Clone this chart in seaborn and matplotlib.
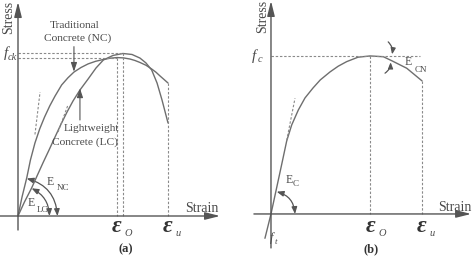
import numpy as np
import pandas as pd
import matplotlib
matplotlib.use("Agg")
import matplotlib.pyplot as plt
import seaborn as sns
from matplotlib.patches import FancyArrowPatch

sns.set_theme(style="white")
plt.rcParams['font.family'] = ['Liberation Serif', 'DejaVu Serif']

# ---------------- data (normalised strain / stress) ----------------
# panel (a): traditional concrete (NC) and lightweight concrete (LC)
nc_strain = [0, 0.027, 0.058, 0.083, 0.113, 0.145, 0.177, 0.212, 0.247, 0.291,
             0.333, 0.373, 0.42, 0.467, 0.517, 0.567, 0.613, 0.66, 0.703, 0.747,
             0.78, 0.813, 0.853, 0.891, 0.92, 0.947, 0.973, 1.0]
nc_stress = [0, 0.117, 0.233, 0.344, 0.448, 0.535, 0.607, 0.676, 0.736, 0.804,
             0.848, 0.883, 0.911, 0.933, 0.949, 0.960, 0.968, 0.972, 0.970, 0.963,
             0.954, 0.942, 0.925, 0.902, 0.882, 0.859, 0.838, 0.816]
lc_strain = [0, 0.043, 0.091, 0.13, 0.169, 0.207, 0.247, 0.287, 0.327, 0.367,
             0.413, 0.467, 0.52, 0.569, 0.633, 0.70, 0.76, 0.813, 0.853, 0.891,
             0.927, 0.96, 1.0]
lc_stress = [0, 0.086, 0.172, 0.252, 0.331, 0.405, 0.485, 0.564, 0.638, 0.706,
             0.773, 0.840, 0.908, 0.957, 0.985, 0.997, 0.991, 0.969, 0.939, 0.896,
             0.816, 0.712, 0.571]
nc_tan_strain = [0.113, 0.147]
nc_tan_stress = [0.50, 0.76]
lc_tan_strain = [0.267, 0.333]
lc_tan_stress = [0.515, 0.681]
a_peak_strain = [0.66, 0.70]      # NC, LC
a_peak_stress = [0.972, 0.997]
a_ult_strain = 1.0
a_ult_stress = 0.816

# panel (b): generic concrete curve
b_strain = [-0.04, 0, 0.04, 0.073, 0.104, 0.137, 0.181, 0.225, 0.278, 0.326,
            0.391, 0.445, 0.501, 0.576, 0.656, 0.744, 0.799, 0.899, 1.0]
b_stress = [-0.154, 0, 0.177, 0.323, 0.462, 0.563, 0.658, 0.734, 0.797, 0.848,
            0.899, 0.935, 0.964, 0.992, 1.0, 0.995, 0.970, 0.922, 0.842]
b_tan_strain = [0.104, 0.159]
b_tan_stress = [0.466, 0.732]
b_peak_strain = 0.656
b_peak_stress = 1.0
b_ult_strain = 1.0
b_ult_stress = 0.842

LINE = '#6e6e6e'
DASH = '#8a8a8a'
TXT = '#4a4a4a'

fig = plt.figure(figsize=(4.74, 2.59), dpi=100)
fig.patch.set_facecolor('white')
ax_a = fig.add_axes([0, 0, 0.5, 1])
ax_b = fig.add_axes([0.5, 0, 0.5, 1])
ax_a.set_xlim(-0.12, 1.46); ax_a.set_ylim(-0.2638, 1.3252)
ax_b.set_xlim(-0.225, 1.344); ax_b.set_ylim(-0.285, 1.354)
for ax in (ax_a, ax_b):
    ax.axis('off')

def axis_arrow(ax, p0, p1):
    ax.annotate('', xy=p1, xytext=p0,
                arrowprops=dict(arrowstyle='-|>,head_length=1.0,head_width=0.25',
                                color='#555555', lw=1.0, shrinkA=0, shrinkB=0,
                                mutation_scale=9))

def arc(ax, p0, p1, rad, style='<|-|>,head_length=0.45,head_width=0.18'):
    ax.add_patch(FancyArrowPatch(p0, p1, arrowstyle=style,
                                 connectionstyle=f'arc3,rad={rad}',
                                 color='#555555', lw=0.9, mutation_scale=9,
                                 shrinkA=0, shrinkB=0))

def dashed(ax, xs, ys):
    ax.plot(xs, ys, color=DASH, lw=0.8, dashes=(2.2, 1.6))

def eps(ax, x, y, sub):
    ax.text(x, y, 'ε', fontsize=17, fontweight='bold', style='italic',
            color='#333333', ha='center', va='center')
    ax.annotate(sub, xy=(x, y), xytext=(5.5, -5), textcoords='offset points',
                fontsize=7.5, style='italic', color=TXT, ha='left', va='center')

# ---------------- panel (a) ----------------
axis_arrow(ax_a, (-0.12, 0), (1.347, 0))
axis_arrow(ax_a, (0, -0.086), (0, 1.313))

df_nc = pd.DataFrame({'strain': nc_strain, 'stress': nc_stress})
df_lc = pd.DataFrame({'strain': lc_strain, 'stress': lc_stress})
sns.lineplot(data=df_nc, x='strain', y='stress', ax=ax_a, sort=False,
             color=LINE, lw=1.0)
sns.lineplot(data=df_lc, x='strain', y='stress', ax=ax_a, sort=False,
             color=LINE, lw=1.0)
dashed(ax_a, nc_tan_strain, nc_tan_stress)
dashed(ax_a, lc_tan_strain, lc_tan_stress)
for sx, sy in zip(a_peak_strain, a_peak_stress):
    dashed(ax_a, [0, sx], [sy, sy])
    dashed(ax_a, [sx, sx], [sy, 0])
dashed(ax_a, [a_ult_strain, a_ult_strain], [a_ult_stress, 0])

ax_a.set_xlabel(''); ax_a.set_ylabel('')
ax_a.text(-0.06, 1.221, 'Stress', rotation=90, fontsize=10, color=TXT,
          ha='center', va='center')
ax_a.text(1.223, 0.049, 'Strain', fontsize=10, color=TXT, ha='center', va='center')
ax_a.text(-0.082, 1.0, 'f', fontsize=11, style='italic', color=TXT,
          ha='center', va='center')
ax_a.text(-0.035, 0.972, 'ck', fontsize=7.5, style='italic', color=TXT,
          ha='center', va='center')
eps(ax_a, 0.66, -0.066, 'O')
eps(ax_a, 1.0, -0.066, 'u')
ax_a.text(0.72, -0.205, '(a)', fontsize=9, fontweight='bold', color='#333333',
          ha='center', va='center')
ax_a.text(0.38, 1.166, 'Traditional', fontsize=8.2, color=TXT, ha='center', va='center')
ax_a.text(0.395, 1.09, 'Concrete (NC)', fontsize=8.2, color=TXT, ha='center', va='center')
ax_a.annotate('', xy=(0.373, 0.885), xytext=(0.373, 1.039),
              arrowprops=dict(arrowstyle='-|>,head_length=0.6,head_width=0.2',
                              color='#555555', lw=0.8, shrinkA=0, shrinkB=0,
                              mutation_scale=9))
ax_a.text(0.491, 0.538, 'Lightweight', fontsize=8.2, color=TXT, ha='center', va='center')
ax_a.text(0.447, 0.45, 'Concrete (LC)', fontsize=8.2, color=TXT, ha='center', va='center')
ax_a.annotate('', xy=(0.413, 0.783), xytext=(0.413, 0.589),
              arrowprops=dict(arrowstyle='-|>,head_length=0.6,head_width=0.2',
                              color='#555555', lw=0.8, shrinkA=0, shrinkB=0,
                              mutation_scale=9))
arc(ax_a, (0.263, 0), (0.058, 0.230), 0.35)
arc(ax_a, (0.21, 0), (0.091, 0.170), 0.285)
ax_a.text(0.213, 0.21, 'E', fontsize=8.5, color=TXT, ha='center', va='center')
ax_a.text(0.30, 0.17, 'NC', fontsize=6.5, color=TXT, ha='center', va='center')
ax_a.text(0.091, 0.08, 'E', fontsize=8.5, color=TXT, ha='center', va='center')
ax_a.text(0.163, 0.037, 'LC', fontsize=6.5, color=TXT, ha='center', va='center')

# ---------------- panel (b) ----------------
axis_arrow(ax_b, (-0.113, 0), (1.325, 0))
axis_arrow(ax_b, (0, -0.215), (0, 1.348))
df_b = pd.DataFrame({'strain': b_strain, 'stress': b_stress})
sns.lineplot(data=df_b, x='strain', y='stress', ax=ax_b, sort=False,
             color=LINE, lw=1.0)
dashed(ax_b, b_tan_strain, b_tan_stress)
dashed(ax_b, [0, 0.987], [b_peak_stress, b_peak_stress])
dashed(ax_b, [b_peak_strain, b_peak_strain], [b_peak_stress, 0])
dashed(ax_b, [b_ult_strain, b_ult_strain], [b_ult_stress, 0])
ax_b.set_xlabel(''); ax_b.set_ylabel('')
ax_b.text(-0.053, 1.247, 'Stress', rotation=90, fontsize=10, color=TXT,
          ha='center', va='center')
ax_b.text(1.219, 0.044, 'Strain', fontsize=10, color=TXT, ha='center', va='center')
ax_b.text(-0.11, 1.0, 'f', fontsize=11, style='italic', color=TXT,
          ha='center', va='center')
ax_b.text(-0.075, 0.98, 'c', fontsize=7.5, style='italic', color=TXT,
          ha='center', va='center')
ax_b.text(0.007, -0.152, 'f', fontsize=9, style='italic', color=TXT,
          ha='center', va='center')
ax_b.text(0.033, -0.177, 't', fontsize=6.5, style='italic', color=TXT,
          ha='center', va='center')
eps(ax_b, 0.658, -0.08, 'O')
eps(ax_b, 1.0, -0.08, 'u')
ax_b.text(0.662, -0.222, '(b)', fontsize=9, fontweight='bold', color='#333333',
          ha='center', va='center')
arc(ax_b, (0.159, 0), (0.038, 0.141), 0.343)
ax_b.text(0.119, 0.215, 'E', fontsize=8.5, color=TXT, ha='center', va='center')
ax_b.text(0.166, 0.19, 'C', fontsize=6.5, color=TXT, ha='center', va='center')
arc(ax_b, (0.776, 1.089), (0.802, 1.01), -0.25, '-|>,head_length=0.4,head_width=0.16')
arc(ax_b, (0.755, 0.891), (0.792, 0.96), 0.25, '-|>,head_length=0.4,head_width=0.16')
ax_b.text(0.907, 0.964, 'E', fontsize=8.5, color=TXT, ha='center', va='center')
ax_b.text(0.993, 0.911, 'CN', fontsize=6.5, color=TXT, ha='center', va='center')

fig.savefig('out.png', dpi=100, facecolor='white')
